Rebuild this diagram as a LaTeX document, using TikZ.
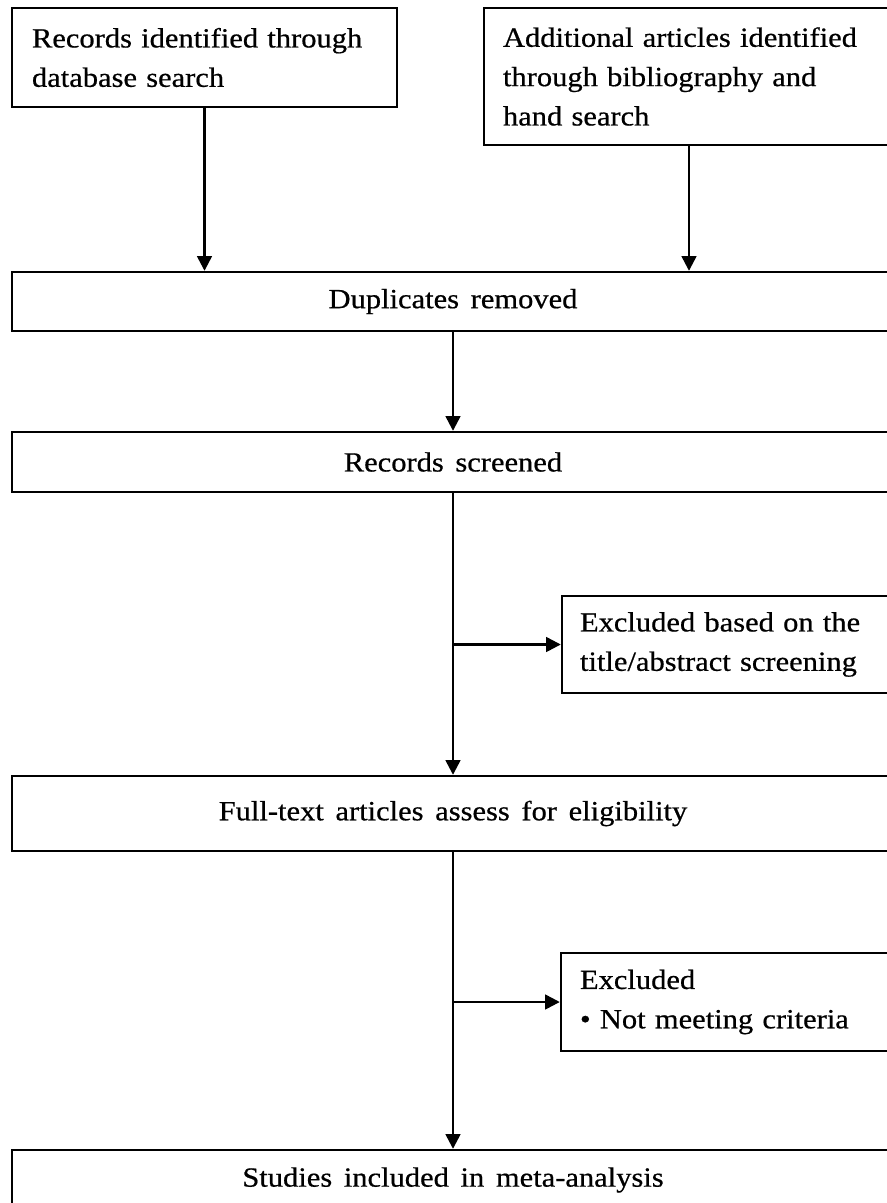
\documentclass[tikz,border=0pt]{standalone}
\usepackage{fontspec}
\setmainfont[FakeStretch=1.1,FakeBold=0.6]{Liberation Serif}
\usetikzlibrary{arrows.meta}
\tikzset{
  txt/.style={font={\fontsize{20.8}{29.5}\selectfont\spaceskip=0.42em\relax}},
  box/.style={draw, line width=1.8pt, txt, inner ysep=0pt},
  lbox/.style={box, align=left},
  cbox/.style={box, align=center, inner xsep=0pt, minimum width=661.5pt},
  arr/.style={line width=1.8pt, -{Triangle[length=11pt,width=11pt]}},
  ln/.style={line width=1.8pt}
}
\begin{document}
\begin{tikzpicture}[x=0.75pt,y=-0.75pt]
\useasboundingbox (0,0) rectangle (887,1203);
\clip (0,0) rectangle (887,1203);
\fill[white] (0,0) rectangle (887,1203);
\node[lbox, inner xsep=15pt, text width=258.75pt, minimum height=74.25pt] (b1) at (204.5,57.5)
  {Records identified through\\database search};
\node[lbox, inner xsep=14.25pt, text width=279pt, minimum height=102.75pt] (b2) at (689,76.5)
  {Additional articles identified\\through bibliography and\\hand search};
\node[cbox, minimum height=44.25pt] (dup) at (453,301.5) {Duplicates removed};
\node[cbox, minimum height=45pt] (scr) at (453,462) {Records screened};
\node[lbox, inner xsep=13.5pt, text width=222pt, minimum height=72.75pt] (ex1) at (728,644.5)
  {Excluded based on the\\title/abstract screening};
\node[cbox, minimum height=56.25pt] (full) at (453,813.5) {Full-text articles assess for eligibility};
\node[lbox, inner xsep=14.25pt, text width=221.25pt, minimum height=73.5pt] (ex2) at (727.5,1002)
  {Excluded\\\textbullet\ Not meeting criteria};
\node[cbox, minimum height=45pt] (stu) at (453,1180) {Studies included in meta-analysis};

\draw[arr] (b1.south) -- (b1.south |- dup.north);
\draw[arr] (b2.south) -- (b2.south |- dup.north);
\draw[arr] (dup.south) -- (scr.north);
\draw[arr] (scr.south) -- (full.north);
\draw[arr] (scr.south |- ex1.west) -- (ex1.west);
\draw[arr] (full.south) -- (stu.north);
\draw[arr] (full.south |- ex2.west) -- (ex2.west);
\end{tikzpicture}
\end{document}
